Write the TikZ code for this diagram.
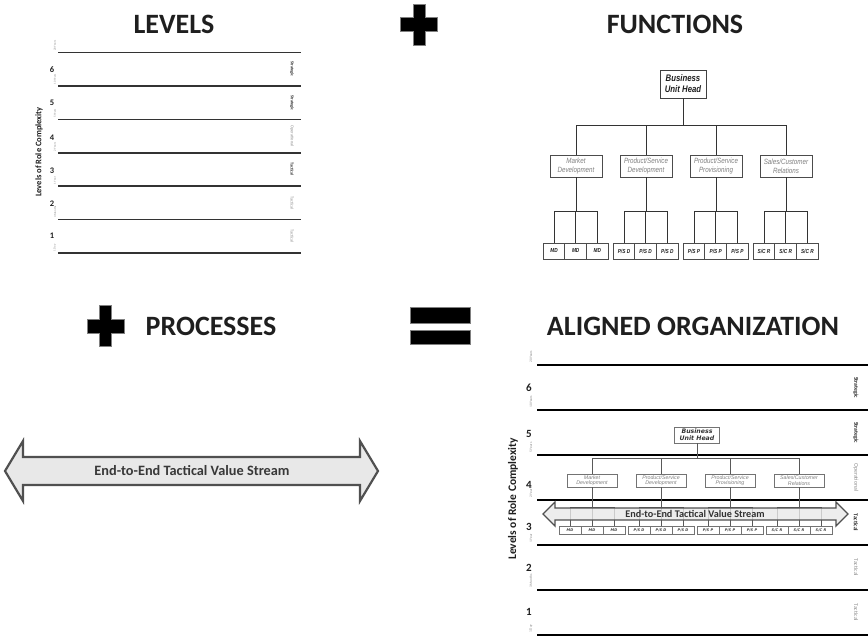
\documentclass[tikz,border=0pt]{standalone}
\usepackage{fontspec}
\setmainfont{Carlito}
\newfontfamily\narrowfont[FakeStretch=0.82]{Liberation Sans}
\newfontfamily\orgfont{DejaVu Sans}
\newfontfamily\plainsans{Liberation Sans}

\definecolor{ink}{HTML}{1F1F1F}
\definecolor{arrowedge}{HTML}{505050}
\definecolor{arrowfill}{HTML}{E8E8E8}
\definecolor{fngrey}{HTML}{808080}
\definecolor{lightlbl}{HTML}{8C8C8C}

% function names and their abbreviations, picked by index
\newcommand\funcname[1]{\ifcase#1 Market\\Development\or Product/Service\\Development\or Product/Service\\Provisioning\or Sales/Customer\\Relations\fi}
\newcommand\funcabbr[1]{\ifcase#1 MD\or P/S D\or P/S P\or S/C R\fi}

\tikzset{
  heading/.style={font=\fontsize{28}{30}\selectfont\bfseries, text=ink, inner sep=0pt},
  opsign/.style={fill=black, draw=black!50, line width=1pt},
  lvlline/.style={draw=black!80, line width=1.4pt},
  biglvlline/.style={draw=black, line width=2pt},
  timelbl/.style={rotate=90, anchor=west, inner sep=0pt, text=black!45},
  sidelbl/.style={rotate=-90, inner sep=0pt},
  axislbl/.style={rotate=90, inner sep=0pt, text=ink},
  numlbl/.style={inner sep=0pt, text=ink},
  % small org chart
  sbuh/.style={draw=black!75, line width=0.8pt, fill=white, minimum width=46pt, minimum height=28pt,
    inner sep=0pt, align=center, font=\narrowfont\bfseries\itshape\fontsize{9.5}{11}\selectfont, text=ink},
  sfn/.style={draw=black!70, line width=0.8pt, fill=white, minimum width=52pt, minimum height=22pt,
    inner sep=0pt, align=center, font=\narrowfont\itshape\fontsize{7.6}{9}\selectfont, text=fngrey},
  sab/.style={draw=black!70, line width=0.8pt, fill=white, minimum width=21.7pt, minimum height=16pt,
    inner sep=0pt, font=\narrowfont\bfseries\itshape\fontsize{5.8}{6}\selectfont, text=ink},
  slink/.style={draw=black!80, line width=0.8pt},
  % org chart inside the aligned levels
  bbuh/.style={draw=black!55, line width=0.8pt, fill=white, minimum width=45pt, minimum height=16pt,
    inner sep=0pt, align=center, font=\orgfont\bfseries\itshape\fontsize{6.2}{7}\selectfont, text=black!80},
  bfn/.style={draw=black!55, line width=0.7pt, fill=white, minimum width=50pt, minimum height=13pt,
    inner sep=0pt, align=center, font=\plainsans\itshape\fontsize{5.3}{5.6}\selectfont, text=fngrey},
  bab/.style={draw=black!55, line width=0.6pt, fill=white, minimum width=22pt, minimum height=8pt,
    inner sep=0pt, font=\orgfont\bfseries\itshape\fontsize{3.6}{4}\selectfont, text=black!75},
  blink/.style={draw=black!65, line width=0.7pt},
  streamarrow/.style={draw=arrowedge, line width=2.2pt, fill=arrowfill, line join=miter},
  bigstream/.style={draw=arrowedge, line width=1.3pt, fill=arrowfill, fill opacity=0.8, line join=miter},
}

\begin{document}
\begin{tikzpicture}[x=1pt, y=-1pt]
\useasboundingbox (0,0) rectangle (868,639);

% ---------- headings ----------
\node[heading] (hlev) at (174,24) {LEVELS};
\node[heading] (hfun) at (675,24) {FUNCTIONS};
\node[heading] (hpro) at (211,326) {PROCESSES};
\node[heading] (hali) at (693,326) {ALIGNED ORGANIZATION};

% ---------- plus and equals signs ----------
\foreach \cx/\cy in {419/25, 105.5/326}{
  \path[opsign, shift={(\cx,\cy)}]
    (-6,-20.5) -- (6,-20.5) -- (6,-7) -- (18.5,-7) -- (18.5,7) -- (6,7) -- (6,20.5)
    -- (-6,20.5) -- (-6,7) -- (-18.5,7) -- (-18.5,-7) -- (-6,-7) -- cycle;
}
\path[opsign] (410,308) rectangle (470,323);
\path[opsign] (410,330) rectangle (470,344);

% ---------- LEVELS ----------
\foreach \yy/\t [count=\k] in {52.5/20 Years,86/10 Years,119.5/5 Years,153/2 Years,186/1 Year,219.5/3 Months,253/1 Day}{
  \draw[lvlline] (58,\yy) -- (301,\yy);
  \node[timelbl, font=\fontsize{3}{3}\selectfont] (stime\k) at (55,\yy-1.5) {\t};
}
\foreach \yy/\n in {70/6,103/5,138/4,171/3,204/2,236/1}
  \node[numlbl, font=\fontsize{8.5}{9}\selectfont\bfseries] (snum\n) at (52,\yy) {\n};
\foreach \yy/\t [count=\k] in {69/Strategic,103/Strategic,169/Tactical}
  \node[sidelbl, font=\fontsize{4.3}{5}\selectfont\bfseries, text=black!80] (ssideb\k) at (292,\yy) {\t};
\foreach \yy/\t [count=\k] in {136/Operational,203/Tactical,236/Tactical}
  \node[sidelbl, font=\fontsize{4.3}{5}\selectfont, text=lightlbl] (ssidel\k) at (292,\yy) {\t};
\node[axislbl, font=\fontsize{8.5}{9}\selectfont\bfseries] (saxis) at (39,152) {Levels of Role Complexity};

% ---------- FUNCTIONS ----------
\node[sbuh] (sbuh) at (683,84) {Business\\Unit Head};
\coordinate (sjn) at (683,125);
\draw[slink] (sbuh) -- (sjn);
\foreach \i in {0,...,3}{
  \node[sfn] (sf\i) at (576+70*\i,166) {\funcname{\i}};
  \draw[slink] (sjn) -| (sf\i.north);
  \coordinate (sj\i) at (576+70*\i,211);
  \draw[slink] (sf\i) -- (sj\i);
  \foreach \j in {0,1,2}{
    \node[sab] (sb\i\j) at (554+70*\i+21.7*\j,251) {\funcabbr{\i}};
    \draw[slink] (sj\i) -| (sb\i\j.north);
  }
}

% ---------- PROCESSES ----------
\path[streamarrow] (5,471) -- (23,441) -- (23,457) -- (360,457) -- (360,441) -- (378,471)
  -- (360,501) -- (360,485) -- (23,485) -- (23,501) -- cycle;
\node[font=\fontsize{14.3}{15}\selectfont\bfseries, text=black!78, inner sep=0pt] (ptext) at (192,471)
  {End-to-End Tactical Value Stream};

% ---------- ALIGNED ORGANIZATION ----------
\foreach \yy/\t [count=\k] in {365/20 Years,410/10 Years,455/5 Years,500/2 Years,545/1 Year,590/3 Months,635/1 Day}{
  \draw[biglvlline] (537,\yy) -- (868,\yy);
  \node[timelbl, font=\fontsize{3.6}{4}\selectfont] (btime\k) at (531,\yy-2) {\t};
}
\foreach \yy/\n in {388/6,434/5,485/4,527/3,568/2,612/1}
  \node[numlbl, font=\fontsize{11}{12}\selectfont\bfseries] (bnum\n) at (529,\yy) {\n};
\foreach \yy/\t [count=\k] in {387.5/Strategic,432.5/Strategic,522.5/Tactical}
  \node[sidelbl, font=\fontsize{5.8}{6}\selectfont\bfseries, text=black!85] (bsideb\k) at (856,\yy) {\t};
\foreach \yy/\t [count=\k] in {477.5/Operational,567.5/Tactical,612.5/Tactical}
  \node[sidelbl, font=\fontsize{5.8}{6}\selectfont, text=lightlbl] (bsidel\k) at (856,\yy) {\t};
\node[axislbl, font=\fontsize{11.5}{12}\selectfont\bfseries] (baxis) at (513,499) {Levels of Role Complexity};

% org chart placed on the levels
\node[bbuh] (bbuh) at (697,435) {Business\\Unit Head};
\coordinate (bjn) at (697,458);
\draw[blink] (bbuh) -- (bjn);
\foreach \i in {0,...,3}{
  \node[bfn] (bf\i) at (592+69*\i,480.5) {\funcname{\i}};
  \draw[blink] (bjn) -| (bf\i.north);
  \coordinate (bj\i) at (592+69*\i,507);
  \draw[blink] (bf\i) -- (bj\i);
  \foreach \j in {0,1,2}
    \draw[blink] (bj\i) -| (570+69*\i+22*\j,526);
}
% value stream across the tactical band
\path[bigstream] (543,514) -- (555,502) -- (555,508) -- (836,508) -- (836,502) -- (848,514)
  -- (836,526) -- (836,520) -- (555,520) -- (555,526) -- cycle;
\node[font=\fontsize{10.2}{11}\selectfont\bfseries, text=black!80, inner sep=0pt] (btext) at (695,514)
  {End-to-End Tactical Value Stream};
\foreach \i in {0,...,3}
  \foreach \j in {0,1,2}
    \node[bab] (bb\i\j) at (570+69*\i+22*\j,530) {\funcabbr{\i}};

\end{tikzpicture}
\end{document}
